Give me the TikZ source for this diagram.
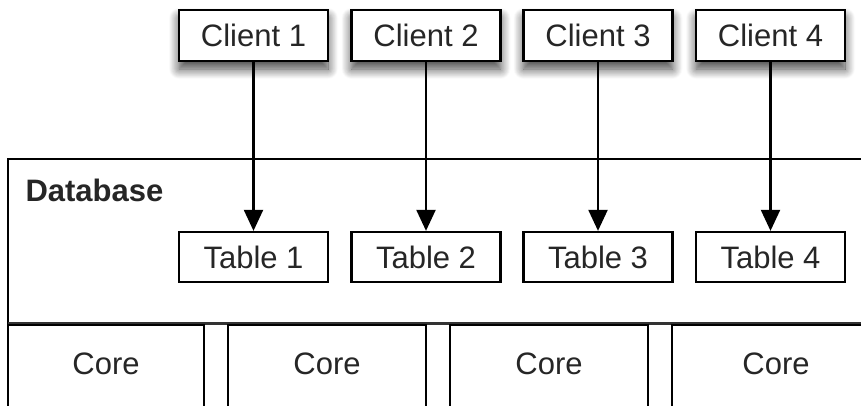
\documentclass[tikz,border=0pt]{standalone}
\usepackage{fontspec}
\setmainfont{Liberation Sans}
\usetikzlibrary{arrows.meta,shadows.blur}
\begin{document}
\begin{tikzpicture}[x=1pt,y=-1pt,
  every node/.style={font=\fontsize{31}{36}\selectfont, text=black!85},
  box/.style={draw, line width=2.3pt, fill=white, minimum width=149pt, minimum height=51pt, inner sep=0pt},
  clientbox/.style={box, blur shadow={shadow xshift=0pt, shadow yshift=-8pt, shadow blur steps=12, shadow blur radius=10pt, shadow opacity=75}},
  tablebox/.style={box, minimum height=50pt},
  link/.style={line width=2.2pt, -{Triangle[width=19pt,length=21pt]}},
  frame/.style={draw, line width=2.3pt}
]
\clip (0,0) rectangle (861,405);
\useasboundingbox (0,0) rectangle (861,405);

% database container and its core partitions
\draw[frame] (8,420) -- (8,159) -- (880,159);
\draw[line width=3pt, black!80] (8,323.5) -- (880,323.5);
\foreach \xa/\xb/\n in {8/204/1, 228/426/2, 450/648/3, 672/880/4}{
  \draw[frame] (\xa,420) -- (\xa,325) -- (\xb,325) -- (\xb,420);
  \node (core\n) at ({(\xa+\xb)/2},364) {Core};
}
\node[font=\fontsize{31}{36}\selectfont\bfseries, anchor=west] (db) at (22,190) {Database};

% clients and tables
\foreach \x/\n in {253.5/1, 426/2, 598/3, 770.5/4}{
  \node[clientbox] (client\n) at (\x,35.5) {Client \n};
  \node[tablebox] (table\n) at (\x,257) {Table \n};
}
\foreach \n in {1,...,4}{
  \draw[link] (client\n.south) -- (table\n.north);
}
\end{tikzpicture}
\end{document}
